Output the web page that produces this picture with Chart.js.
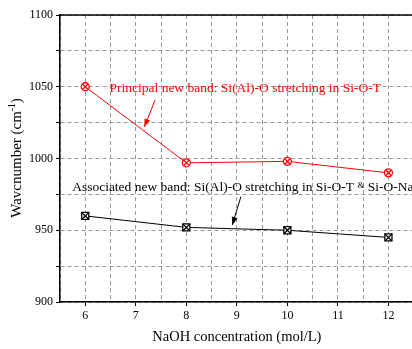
<!DOCTYPE html>
<html>
<head>
<meta charset="utf-8">
<script src="https://cdn.jsdelivr.net/npm/chart.js@4.4.1/dist/chart.umd.min.js"></script>
<style>
  html, body { margin: 0; padding: 0; background: #fff; overflow: hidden; }
  #wrap { width: 420px; height: 349px; }
</style>
</head>
<body>
<div id="wrap"><canvas id="myChart" width="420" height="349"></canvas></div>
<script>
const naoh = [6, 8, 10, 12];
const principal = [1050, 997, 998, 990];
const associated = [960, 952, 950, 945];

const FONT = '"Liberation Serif", "Times New Roman", serif';

const pts = (ys) => naoh.map((x, i) => ({x: x, y: ys[i]}));

// text, arrows, axis titles and the top frame line
const extras = {
  id: 'extras',
  afterDraw(chart) {
    const {ctx, chartArea, scales} = chart;
    const px = v => scales.x.getPixelForValue(v), py = v => scales.y.getPixelForValue(v);
    ctx.save();
    ctx.strokeStyle = '#000';
    ctx.lineWidth = 1.5;
    ctx.beginPath();
    ctx.moveTo(chartArea.left, chartArea.top);
    ctx.lineTo(chartArea.right, chartArea.top);
    ctx.stroke();

    const arrow = (x1, y1, x2, y2, color) => {
      const a = px(x1), b = py(y1), c = px(x2), d = py(y2);
      ctx.strokeStyle = color; ctx.fillStyle = color; ctx.lineWidth = 1;
      ctx.beginPath(); ctx.moveTo(a, b); ctx.lineTo(c, d); ctx.stroke();
      const ang = Math.atan2(d - b, c - a), L = 8, W = 3;
      ctx.beginPath();
      ctx.moveTo(c, d);
      ctx.lineTo(c - L*Math.cos(ang) + W*Math.sin(ang), d - L*Math.sin(ang) - W*Math.cos(ang));
      ctx.lineTo(c - L*Math.cos(ang) - W*Math.sin(ang), d - L*Math.sin(ang) + W*Math.cos(ang));
      ctx.closePath(); ctx.fill();
    };

    ctx.textBaseline = 'middle';
    ctx.textAlign = 'left';
    ctx.font = '13.5px ' + FONT;
    ctx.fillStyle = '#ff0000';
    ctx.fillText('Principal new band: Si(Al)-O stretching in Si-O-T', px(6.48), py(1049));
    arrow(7.38, 1040.6, 7.17, 1022, '#ff0000');

    ctx.fillStyle = '#000';
    let x0 = px(5.74), y0 = py(979.5);
    const t1 = 'Associated new band: Si(Al)-O stretching in Si-O-T ';
    ctx.fillText(t1, x0, y0);
    x0 += ctx.measureText(t1).width;
    ctx.font = '9px ' + FONT;
    ctx.fillText('&', x0, y0 - 2);
    x0 += ctx.measureText('& ').width + 1;
    ctx.font = '13.5px ' + FONT;
    ctx.fillText('Si-O-Na', x0, y0);
    arrow(9.08, 973.4, 8.91, 953.7, '#000');

    // x title
    ctx.font = '14.5px ' + FONT;
    ctx.textAlign = 'center';
    ctx.fillText('NaOH concentration (mol/L)', (chartArea.left + chartArea.right) / 2, 337);

    // y title with superscript
    ctx.translate(17, 158);
    ctx.rotate(-Math.PI / 2);
    const s1 = 'Wavcnumber (cm', s2 = '-1', s3 = ')';
    ctx.font = '15px ' + FONT;
    const w1 = ctx.measureText(s1).width, w3 = ctx.measureText(s3).width;
    ctx.font = '9.5px ' + FONT;
    const w2 = ctx.measureText(s2).width;
    let sx = -(w1 + w2 + w3) / 2;
    ctx.textAlign = 'left';
    ctx.font = '15px ' + FONT;
    ctx.fillText(s1, sx, 0); sx += w1;
    ctx.font = '9.5px ' + FONT;
    ctx.fillText(s2, sx, -5); sx += w2;
    ctx.font = '15px ' + FONT;
    ctx.fillText(s3, sx, 0);
    ctx.restore();
  }
};

const config = {
  type: 'line',
  data: {
    datasets: [
      { data: pts(principal), order: 1, borderColor: '#ff0000', borderWidth: 1, pointStyle: 'circle',
        pointRadius: 4, pointBorderWidth: 1.3, pointBorderColor: '#ff0000', pointBackgroundColor: '#fff' },
      { data: pts(principal), order: 0, showLine: false, pointStyle: 'crossRot',
        pointRadius: 4, pointBorderWidth: 1.3, pointBorderColor: '#ff0000' },
      { data: pts(associated), order: 1, borderColor: '#000', borderWidth: 1, pointStyle: 'rect',
        pointRadius: 5, pointBorderWidth: 1.3, pointBorderColor: '#000', pointBackgroundColor: '#fff' },
      { data: pts(associated), order: 0, showLine: false, pointStyle: 'crossRot',
        pointRadius: 5, pointBorderWidth: 1.3, pointBorderColor: '#000' }
    ]
  },
  options: {
    responsive: false,
    animation: false,
    events: [],
    layout: { padding: { top: 15, right: 4, left: 0, bottom: 0 } },
    plugins: { legend: { display: false }, tooltip: { enabled: false } },
    scales: {
      x: {
        type: 'linear', min: 5.5, max: 12.5,
        afterFit: s => { s.height = 47; },
        border: { color: '#000', width: 1.5, dash: [4, 3] },
        grid: { color: '#999', tickLength: 4,
          tickColor: c => Number.isInteger(c.tick && c.tick.value) ? '#000' : 'rgba(0,0,0,0)' },
        ticks: { stepSize: 0.5, autoSkip: false, maxRotation: 0, color: '#000', padding: 3,
          font: { family: FONT, size: 12 },
          callback: v => Number.isInteger(v) ? v : '' }
      },
      y: {
        min: 900, max: 1100,
        afterFit: s => { s.width = 60; },
        border: { color: '#000', width: 1.5, dash: [4, 3] },
        grid: { color: '#999', tickColor: '#000', tickLength: 4 },
        ticks: { stepSize: 25, autoSkip: false, color: '#000', padding: 3,
          font: { family: FONT, size: 12 },
          callback: v => v % 50 === 0 ? v : '' }
      }
    }
  },
  plugins: [extras]
};

new Chart(document.getElementById('myChart'), config);
</script>
</body>
</html>
